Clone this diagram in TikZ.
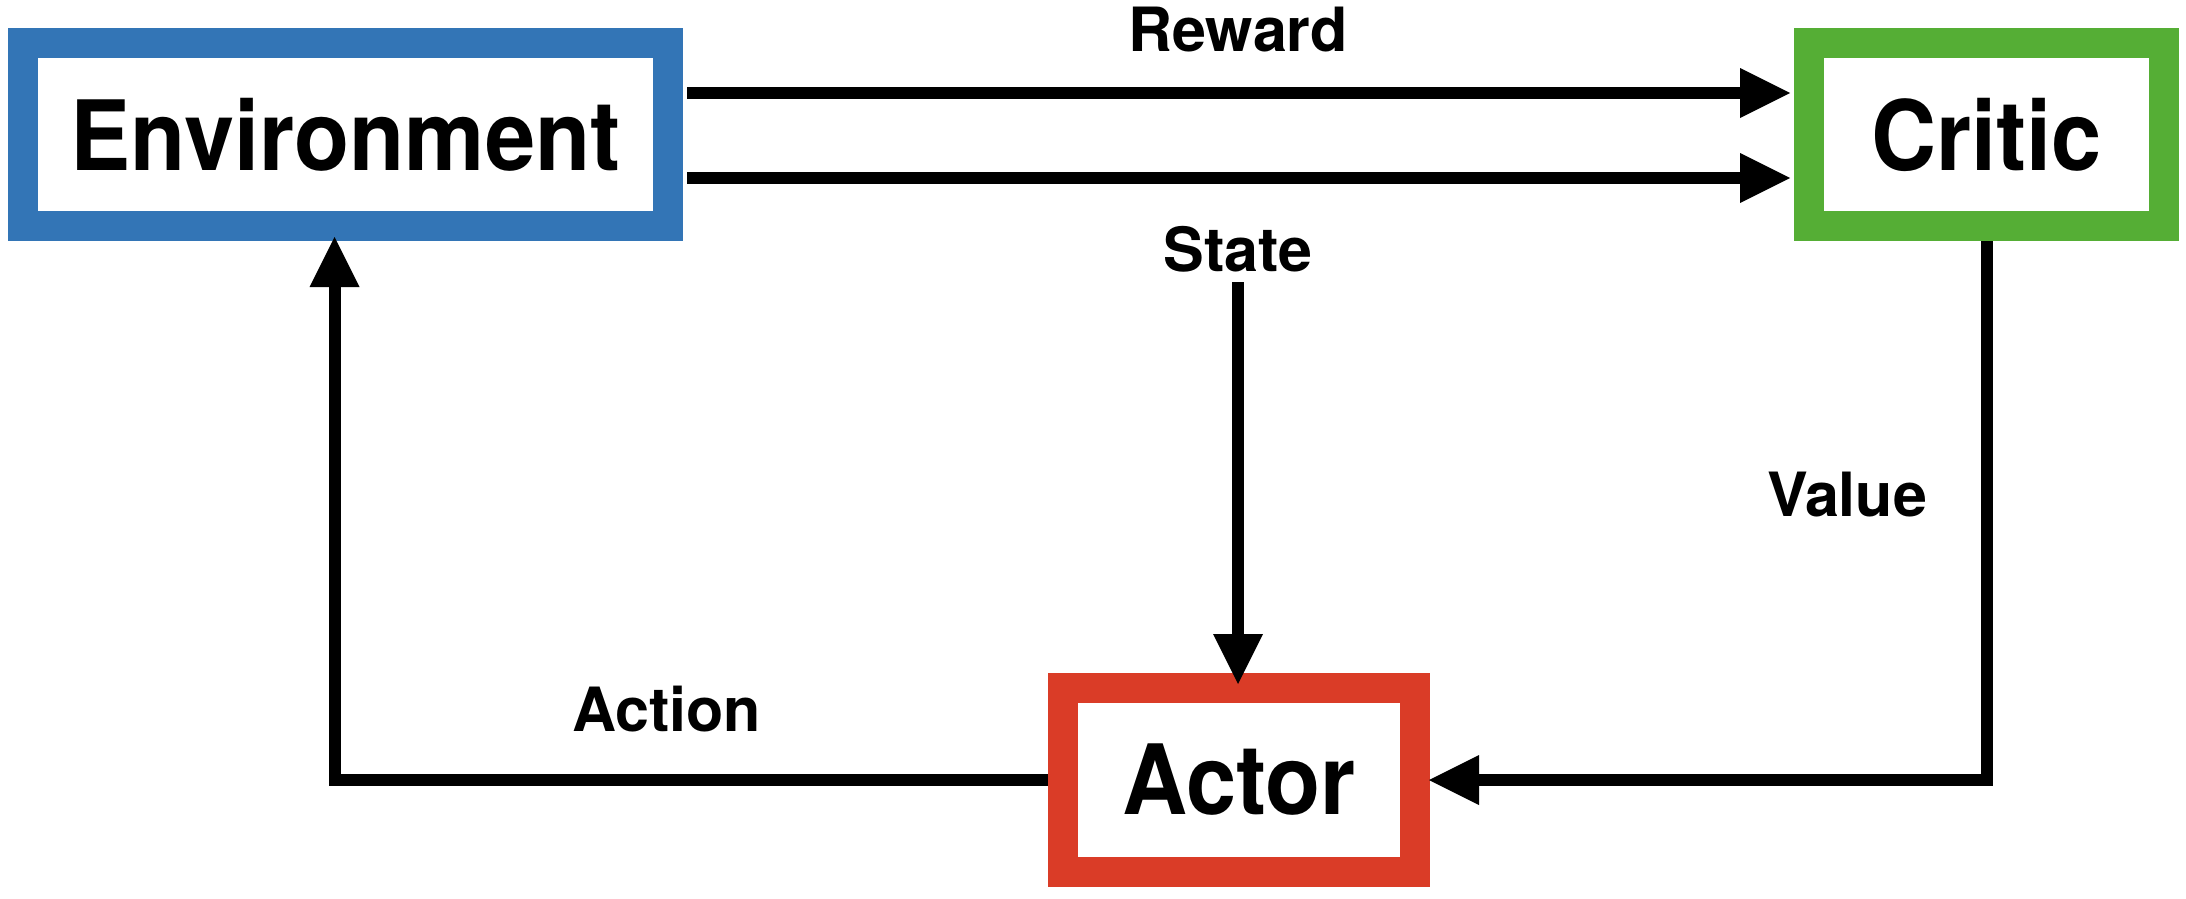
\documentclass[tikz,border=0pt]{standalone}
\usepackage{fontspec}
\setmainfont{TeX Gyre Heros}
\newfontfamily\boxfont[FakeStretch=0.93]{TeX Gyre Heros}
\usetikzlibrary{arrows.meta}
\definecolor{envblue}{RGB}{51,117,182}
\definecolor{criticgreen}{RGB}{85,174,53}
\definecolor{actorred}{RGB}{218,60,39}
\tikzset{
  box/.style={draw, line width=30pt, fill=white, inner sep=0pt,
    font=\boxfont\bfseries\fontsize{97}{100}\selectfont},
  lbl/.style={inner sep=0pt, font=\fontsize{61}{70}\selectfont\bfseries},
  arr/.style={line width=12pt, -{Triangle[length=50pt,width=50pt,line width=0pt]}}
}
\begin{document}
\begin{tikzpicture}[x=1pt,y=-1pt]
\useasboundingbox (0,0) rectangle (2186,898);
\node[box, draw=envblue, minimum width=645pt, minimum height=183pt] (env) at (345.5,134.5) {Environment};
\node[box, draw=criticgreen, minimum width=355pt, minimum height=183pt] (critic) at (1986.5,134.5) {Critic};
\node[box, draw=actorred, minimum width=352pt, minimum height=184pt] (actor) at (1239,780) {Actor};
\node[lbl] (reward) at (1238,29.5) {Reward};
\node[lbl] (state) at (1238,249) {State};
\node[lbl] (value) at (1847,495) {Value};
\node[lbl] (action) at (666.5,709.5) {Action};
\draw[arr, shorten <=4pt, shorten >=4pt] ([yshift=41.5pt]env.east) -- ([yshift=41.5pt]critic.west);
\draw[arr, shorten <=4pt, shorten >=4pt] ([yshift=-43.5pt]env.east) -- ([yshift=-43.5pt]critic.west);
\draw[arr, shorten >=-11pt] ([yshift=-10pt]state.south) -- (state.south |- actor.north);
\draw[arr, shorten >=-4pt] (actor.west) -| ([xshift=-11pt]env.south);
\draw[arr, shorten >=-1pt] (critic.south) |- (actor.east);
\end{tikzpicture}
\end{document}
